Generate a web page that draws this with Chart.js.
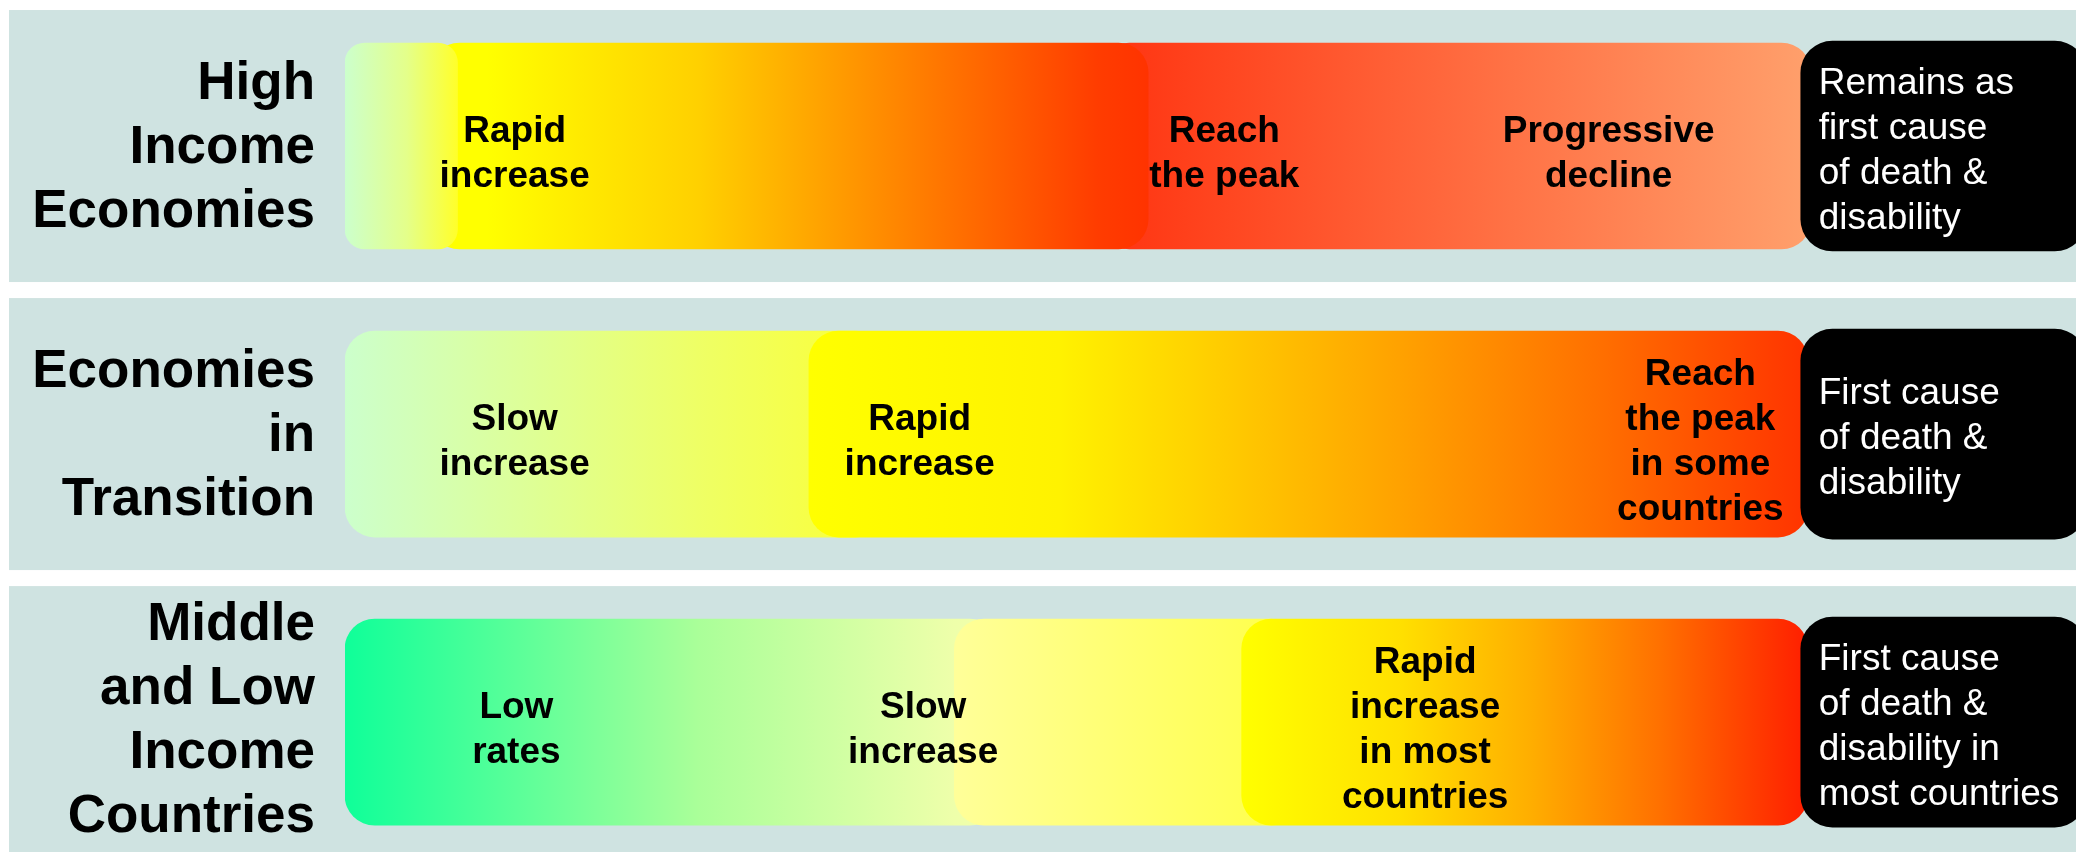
<!DOCTYPE html>
<html>
<head>
<meta charset="utf-8">
<script src="https://cdn.jsdelivr.net/npm/chart.js@4.4.1/dist/chart.umd.min.js"></script>
<style>
  html, body { margin: 0; padding: 0; background: #fff; overflow: hidden; }
  canvas { display: block; }
</style>
</head>
<body>
<canvas id="stageChart" width="2076" height="852"></canvas>
<script>
// rows of the diagram (y axis)
const rowLabels = [
  ['High', 'Income', 'Economies'],
  ['Economies', 'in', 'Transition'],
  ['Middle', 'and Low', 'Income', 'Countries']
];

// phases on a 0-100 "stage" axis: [start, end]
const highIncomePhases = [[0, 6.5], [4.9, 46.4], [43.6, 84.7]];
const transitionPhases = [[0, 31.2], [26.8, 84.5]];
const lowIncomePhases = [[0, 37.8], [35.2, 55.2], [51.8, 84.5]];
const outcomeSpan = [84.1, 100.6];

// where each phase note sits on the stage axis
const noteStages = [[9.8, 50.8, 73.0], [9.8, 33.2, 78.3], [9.9, 33.4, 62.4]];
const noteTexts = [
  [['Rapid', 'increase'], ['Reach', 'the peak'], ['Progressive', 'decline']],
  [['Slow', 'increase'], ['Rapid', 'increase'], ['Reach', 'the peak', 'in some', 'countries']],
  [['Low', 'rates'], ['Slow', 'increase'], ['Rapid', 'increase', 'in most', 'countries']]
];
const outcomeTexts = [
  ['Remains as', 'first cause', 'of death &', 'disability'],
  ['First cause', 'of death &', 'disability'],
  ['First cause', 'of death &', 'disability in', 'most countries']
];

// styling
const phaseColors = [
  [
    [[0, '#CCFFCC'], [0.55, '#E4FF8A'], [1, '#FFFF2A']],
    [[0, '#FFFF00'], [0.08, '#FFFF00'], [0.375, '#FFD000'], [0.62, '#FF8E00'], [0.93, '#FF3C00'], [1, '#FF3300']],
    [[0, '#FF3310'], [1, '#FFA06C']]
  ],
  [
    [[0, '#CCFFCC'], [0.65, '#EEFF66'], [0.86, '#F6FF48'], [1, '#FAFF3A']],
    [[0, '#FFFF00'], [0.25, '#FFF200'], [0.38, '#FFD400'], [0.59, '#FFA200'], [0.79, '#FF7000'], [1, '#FF3300']]
  ],
  [
    [[0, '#0FFF99'], [0.54, '#AAFF99'], [0.93, '#EEFFAA'], [1, '#F2FFAA']],
    [[0, '#FFFF99'], [0.83, '#FFFF55'], [1, '#FFFF44']],
    [[0, '#FFFF00'], [0.28, '#FFE000'], [0.51, '#FFAE00'], [0.74, '#FF7000'], [1, '#FF1E00']]
  ]
];
const layerOrder = [[1, 2, 3], [2, 1], [3, 2, 1]];
const phaseRadius = [[20, 30, 30], [30, 30], [30, 30, 30]];
const FONT = '"Liberation Sans", Arial, Helvetica, sans-serif';

const gradientFill = (stops) => (ctx) => {
  const chart = ctx.chart;
  const raw = ctx.raw;
  if (!chart.chartArea || !raw) return stops[0][1];
  const xs = chart.scales.x;
  const g = chart.ctx.createLinearGradient(xs.getPixelForValue(raw.x[0]), 0, xs.getPixelForValue(raw.x[1]), 0);
  stops.forEach(([o, c]) => g.addColorStop(o, c));
  return g;
};

const datasets = [];
[highIncomePhases, transitionPhases, lowIncomePhases].forEach((phases, row) => {
  phases.forEach((span, k) => {
    datasets.push({
      data: [{ x: span, y: row }],
      backgroundColor: gradientFill(phaseColors[row][k]),
      borderRadius: phaseRadius[row][k],
      borderSkipped: false,
      barThickness: 206,
      order: layerOrder[row][k]
    });
  });
});
datasets.push({
  data: rowLabels.map((_, row) => ({ x: outcomeSpan, y: row })),
  backgroundColor: '#000000',
  borderRadius: 32,
  borderSkipped: false,
  barThickness: 210,
  order: 0
});

// light bands behind each row + the row titles on the left
const rowBands = {
  id: 'rowBands',
  beforeDraw(chart) {
    const { ctx, width, height, chartArea, scales: { y } } = chart;
    ctx.save();
    ctx.fillStyle = '#ffffff';
    ctx.fillRect(0, 0, width, height);
    rowLabels.forEach((lines, i) => {
      const c = y.getPixelForValue(i);
      ctx.fillStyle = '#CFE3E1';
      ctx.fillRect(9, c - 136, width - 9, 272);
      ctx.fillStyle = '#000';
      ctx.font = 'bold 53px ' + FONT;
      ctx.textAlign = 'right';
      ctx.textBaseline = 'middle';
      const shift = lines.length === 3 ? 3 : 0;
      lines.forEach((t, j) => ctx.fillText(t, chartArea.left - 30, c - 1 + shift + (j - (lines.length - 1) / 2) * 64));
    });
    ctx.restore();
  }
};

const stageNotes = {
  id: 'stageNotes',
  afterDatasetsDraw(chart) {
    const { ctx, scales: { x, y } } = chart;
    ctx.save();
    ctx.textBaseline = 'middle';
    ctx.textAlign = 'center';
    ctx.fillStyle = '#000';
    ctx.font = 'bold 37px ' + FONT;
    noteTexts.forEach((notes, row) => {
      notes.forEach((lines, k) => {
        const cx = x.getPixelForValue(noteStages[row][k]);
        const cy = y.getPixelForValue(row) + 8;
        lines.forEach((t, j) => ctx.fillText(t, cx, cy + (j - (lines.length - 1) / 2) * 45));
      });
    });
    ctx.textAlign = 'left';
    ctx.fillStyle = '#fff';
    ctx.font = '37px ' + FONT;
    outcomeTexts.forEach((lines, row) => {
      const lx = x.getPixelForValue(outcomeSpan[0]) + 18;
      const cy = y.getPixelForValue(row) + 5;
      lines.forEach((t, j) => ctx.fillText(t, lx, cy + (j - (lines.length - 1) / 2) * 45));
    });
    ctx.restore();
  }
};

new Chart(document.getElementById('stageChart'), {
  type: 'bar',
  data: { datasets },
  options: {
    indexAxis: 'y',
    responsive: false,
    animation: false,
    devicePixelRatio: 1,
    layout: { padding: { left: 345, top: 0, right: 0, bottom: 0 } },
    datasets: { bar: { grouped: false } },
    plugins: { legend: { display: false }, tooltip: { enabled: false } },
    scales: {
      x: { type: 'linear', min: 0, max: 100, display: false, offset: false },
      y: { type: 'linear', reverse: true, min: -0.507, max: 2.451, display: false, offset: false, grid: { offset: false } }
    }
  },
  plugins: [rowBands, stageNotes]
});
</script>
</body>
</html>
